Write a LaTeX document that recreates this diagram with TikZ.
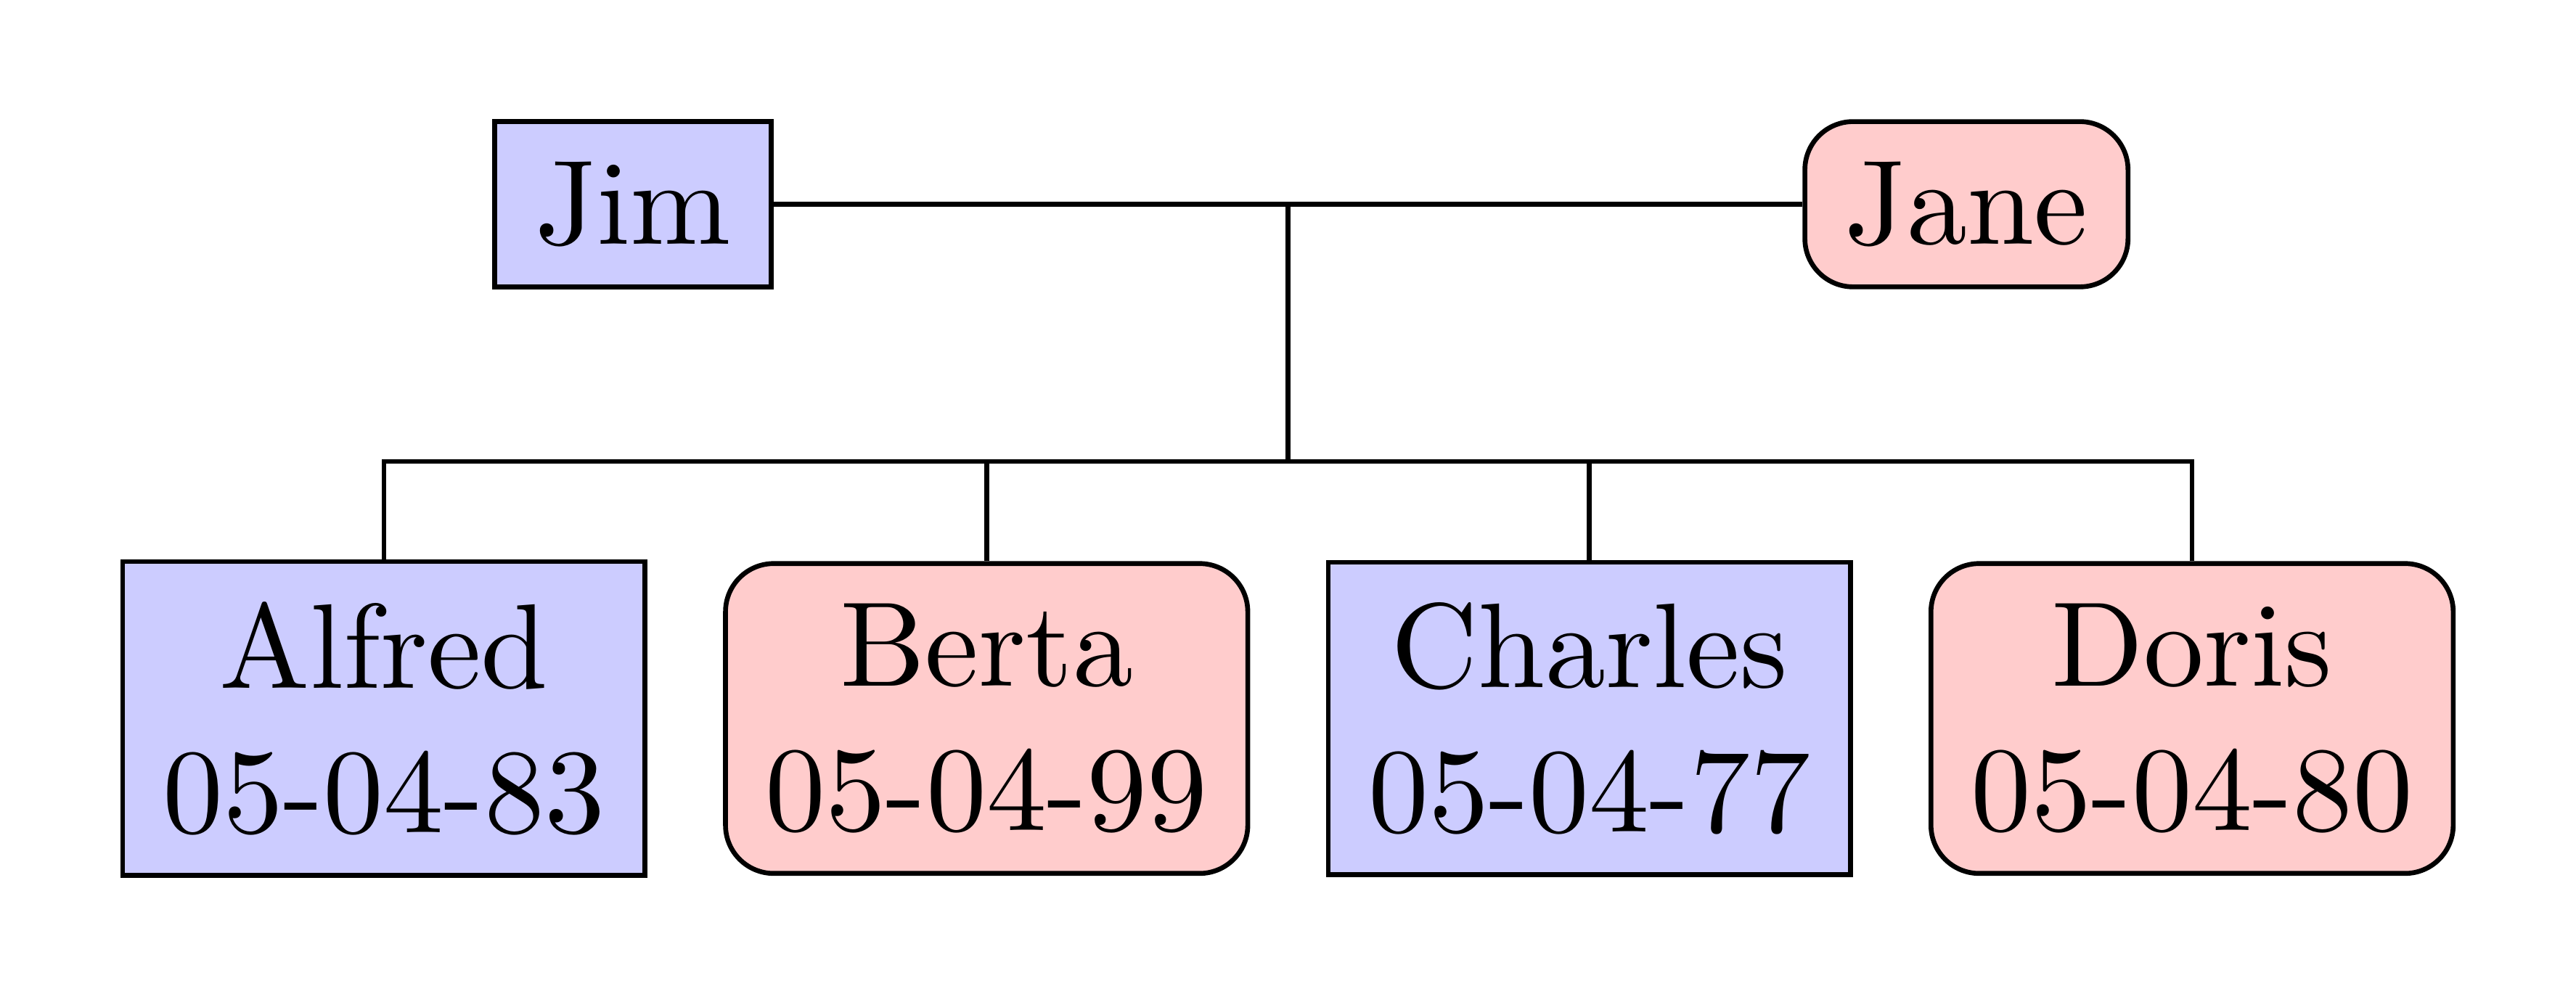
\documentclass[tikz,border=0pt]{standalone}
\usepackage{tikz}
\usetikzlibrary{positioning}

\begin{document}
\begin{tikzpicture}[
    male/.style={rectangle,draw=black,fill=blue!20,align=center},
    female/.style={rectangle,rounded corners,draw=black,fill=red!20,align=center}]
  \useasboundingbox (-106.85pt,-65.5pt) rectangle (106.85pt,16.95pt);

  % parents:
  \coordinate (join) at (0,0);
  \node[male,left=15mm of join] (jim) {Jim};
  \node[female,right=15mm of join] (jane) {Jane};

  % children:
  \node[male] (alfred) at (-75pt,-15mm) {Alfred\\05-04-83};
  \node[female] (berta) at (-25pt,-15mm) {Berta\\05-04-99};
  \node[male] (charles) at (25pt,-15mm) {Charles\\05-04-77};
  \node[female] (doris) at (75pt,-15mm) {Doris\\05-04-80};

  \draw (jim) -- (jane);
  \coordinate (fork) at (0,-7.5mm);
  \foreach \kid in {alfred,berta,charles,doris}
    \draw (join) -- (fork) -| (\kid.north);
\end{tikzpicture}
\end{document}
